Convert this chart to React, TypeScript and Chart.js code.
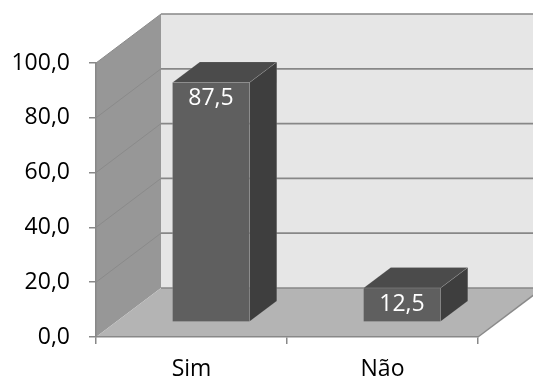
import React, { useEffect, useRef } from 'react';
import { Chart, registerables } from 'chart.js';

Chart.register(...registerables);

const categories: string[] = ['Sim', 'Não'];
const values: number[] = [87.5, 12.5];
const yTicks: number[] = [0, 20, 40, 60, 80, 100];

const DX = 65;
const DY = -49;
const BAR_POS = 0.3;
const BAR_DEPTH = 0.42;
const FONT = "'Open Sans', sans-serif";
const FONT_SIZE = 23;

const fmt = (v: number) => v.toFixed(1).replace('.', ',');

const poly = (ctx: CanvasRenderingContext2D, pts: number[][], fill?: string, stroke?: string, lw = 1) => {
  ctx.beginPath();
  pts.forEach((p, i) => (i === 0 ? ctx.moveTo(p[0], p[1]) : ctx.lineTo(p[0], p[1])));
  ctx.closePath();
  if (fill) {
    ctx.fillStyle = fill;
    ctx.fill();
  }
  if (stroke) {
    ctx.strokeStyle = stroke;
    ctx.lineWidth = lw;
    ctx.stroke();
  }
};

const line = (ctx: CanvasRenderingContext2D, x1: number, y1: number, x2: number, y2: number, color: string, lw: number) => {
  ctx.beginPath();
  ctx.moveTo(x1, y1);
  ctx.lineTo(x2, y2);
  ctx.strokeStyle = color;
  ctx.lineWidth = lw;
  ctx.stroke();
};

const walls3d = {
  id: 'walls3d',
  beforeDraw(chart: any) {
    const { ctx, chartArea: a, scales } = chart;
    const y = scales.y;
    const L = a.left;
    const R = a.right;
    const T = y.getPixelForValue(yTicks[yTicks.length - 1]);
    const B = y.getPixelForValue(0);
    ctx.save();
    // back wall
    ctx.fillStyle = '#e6e6e6';
    ctx.fillRect(L + DX, T + DY, R - L, B - T);
    // left wall
    poly(ctx, [[L, T], [L + DX, T + DY], [L + DX, B + DY], [L, B]], '#979797');
    // floor
    poly(ctx, [[L, B], [R, B], [R + DX, B + DY], [L + DX, B + DY]], '#b4b4b4');
    // grid lines
    yTicks.forEach((v) => {
      const py = y.getPixelForValue(v);
      if (v !== 0) line(ctx, L, py, L + DX, py + DY, '#8a8a8a', 1);
      line(ctx, L + DX, py + DY, R + DX, py + DY, '#878787', 1.7);
    });
    // floor right edge
    line(ctx, R, B, R + DX, B + DY, '#8a8a8a', 1.5);
    ctx.restore();
  },
  afterDatasetsDraw(chart: any) {
    const { ctx } = chart;
    const meta = chart.getDatasetMeta(0);
    ctx.save();
    meta.data.forEach((el: any, i: number) => {
      const p = el.getProps(['x', 'y', 'base', 'width'], true);
      const fx = DX * BAR_POS;
      const fy = DY * BAR_POS;
      const bx = DX * BAR_DEPTH;
      const by = DY * BAR_DEPTH;
      const l = p.x - p.width / 2 + fx;
      const r = p.x + p.width / 2 + fx;
      const t = p.y + fy;
      const b = p.base + fy;
      const edge = 'rgba(255,255,255,0.12)';
      // right side
      poly(ctx, [[r, t], [r + bx, t + by], [r + bx, b + by], [r, b]], '#3e3e3e', edge);
      // top
      poly(ctx, [[l, t], [l + bx, t + by], [r + bx, t + by], [r, t]], '#4b4b4b', edge);
      // front
      poly(ctx, [[l, t], [r, t], [r, b], [l, b]], '#5f5f5f', edge);
      // label
      ctx.fillStyle = '#ffffff';
      ctx.font = `${FONT_SIZE}px ${FONT}`;
      ctx.textAlign = 'center';
      ctx.textBaseline = 'middle';
      ctx.fillText(fmt(values[i]), (l + r) / 2, t + 16);
    });
    ctx.restore();
  },
};

export default function App() {
  const ref = useRef<HTMLCanvasElement | null>(null);

  useEffect(() => {
    if (!ref.current) return;
    const chart = new Chart(ref.current, {
      type: 'bar',
      data: {
        labels: categories,
        datasets: [
          {
            data: values,
            backgroundColor: 'rgba(0,0,0,0)',
            borderWidth: 0,
            barPercentage: 0.403,
            categoryPercentage: 1,
          },
        ],
      },
      options: {
        animation: false,
        responsive: true,
        maintainAspectRatio: false,
        layout: { padding: { top: 63, right: 55, left: 0, bottom: 0 } },
        plugins: { legend: { display: false }, tooltip: { enabled: false } },
        scales: {
          x: {
            afterFit: (s: any) => {
              s.height = 44;
            },
            grid: { offset: true, drawOnChartArea: false, drawTicks: true, tickLength: 7, color: '#888888', lineWidth: 1.5 },
            border: { display: true, color: '#888888', width: 1.5 },
            ticks: { color: '#000000', font: { family: FONT, size: FONT_SIZE }, padding: 12 },
          },
          y: {
            min: 0,
            max: 100,
            afterFit: (s: any) => {
              s.width = 96;
            },
            afterBuildTicks: (s: any) => {
              s.ticks = yTicks.map((v) => ({ value: v }));
            },
            grid: { drawOnChartArea: false, drawTicks: true, tickLength: 7, color: '#888888', lineWidth: 1.5 },
            border: { display: true, color: '#888888', width: 1.5 },
            ticks: {
              color: '#000000',
              font: { family: FONT, size: FONT_SIZE },
              padding: 19,
              callback: (v: any) => fmt(Number(v)),
            },
          },
        },
      },
      plugins: [walls3d],
    });
    return () => chart.destroy();
  }, []);

  return (
    <div style={{ position: 'absolute', left: 0, top: 0, width: 533, height: 381, background: '#ffffff' }}>
      <canvas ref={ref} />
    </div>
  );
}
